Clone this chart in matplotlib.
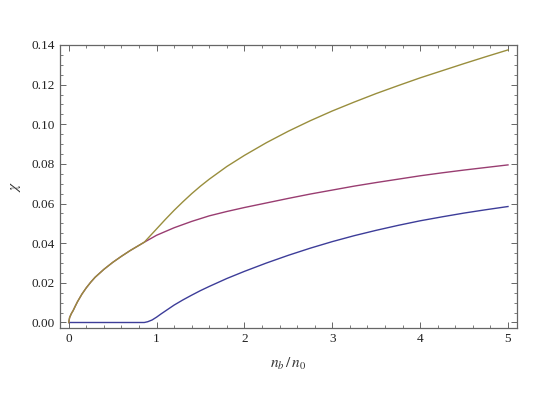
import matplotlib
matplotlib.use("Agg")
import matplotlib.pyplot as plt
from matplotlib.ticker import MultipleLocator

plt.rcParams['font.family'] = ['Liberation Serif', 'DejaVu Serif']
plt.rcParams['mathtext.fontset'] = 'stix'

# values
x_blue = [0, 0.5, 0.86, 0.9, 0.95, 1.0, 1.05, 1.1, 1.2, 1.3, 1.4, 1.5, 1.6, 1.8,
          2.0, 2.25, 2.5, 2.75, 3.0, 3.25, 3.5, 3.75, 4.0, 4.25, 4.5, 4.75, 5.0]
blue = [0, 0, 0, 0.0004, 0.0013, 0.0027, 0.0043, 0.0058, 0.0088, 0.0114, 0.0138,
        0.0161, 0.0182, 0.0222, 0.0258, 0.0300, 0.0339, 0.0375, 0.0408, 0.0438,
        0.0465, 0.0490, 0.0513, 0.0533, 0.0552, 0.0569, 0.0585]

x_red = [0, 0.01, 0.03, 0.05, 0.075, 0.1, 0.15, 0.2, 0.25, 0.3, 0.4, 0.5, 0.6,
         0.7, 0.86, 1.0, 1.2, 1.4, 1.6, 1.8, 2.0, 2.25, 2.5, 2.75, 3.0, 3.25,
         3.5, 3.75, 4.0, 4.25, 4.5, 4.75, 5.0]
red = [0, 0.0025, 0.0045, 0.006, 0.0083, 0.0105, 0.0143, 0.0175, 0.0203, 0.0228,
       0.0268, 0.0303, 0.0334, 0.0363, 0.0405, 0.0440, 0.0478, 0.0510, 0.0538,
       0.0560, 0.0580, 0.0603, 0.0626, 0.0648, 0.0668, 0.0688, 0.0706, 0.0723,
       0.0740, 0.0755, 0.0769, 0.0782, 0.0795]

x_green = [0, 0.01, 0.03, 0.05, 0.075, 0.1, 0.15, 0.2, 0.25, 0.3, 0.4, 0.5, 0.6,
           0.7, 0.86, 1.0, 1.1, 1.2, 1.3, 1.4, 1.5, 1.6, 1.8, 2.0, 2.25, 2.5,
           2.75, 3.0, 3.25, 3.5, 3.75, 4.0, 4.25, 4.5, 4.75, 5.0]
green = [0, 0.0025, 0.0045, 0.006, 0.0083, 0.0105, 0.0143, 0.0175, 0.0203, 0.0228,
         0.0268, 0.0303, 0.0334, 0.0363, 0.0405, 0.0472, 0.0520, 0.0566, 0.0609,
         0.0650, 0.0688, 0.0723, 0.0787, 0.0843, 0.0907, 0.0965, 0.1018, 0.1067,
         0.1112, 0.1155, 0.1195, 0.1234, 0.1270, 0.1306, 0.1341, 0.1375]

fig = plt.figure(figsize=(5.4, 4.05), dpi=100)
ax = fig.add_axes([0.111, 0.190, 0.846, 0.699])

ax.plot(x_blue, blue, color="#3d3d99", lw=1.0)
ax.plot(x_red, red, color="#993d71", lw=1.0)
ax.plot(x_green, green, color="#998e3d", lw=1.0)

ax.set_xlim(-0.1, 5.1)
ax.set_ylim(-0.0028, 0.14)
ax.xaxis.set_major_locator(MultipleLocator(1))
ax.xaxis.set_minor_locator(MultipleLocator(0.2))
ax.yaxis.set_major_locator(MultipleLocator(0.02))
ax.yaxis.set_minor_locator(MultipleLocator(0.005))
ax.yaxis.set_major_formatter(plt.FormatStrFormatter("%.2f"))

for s in ax.spines.values():
    s.set_color("#666666")
    s.set_linewidth(0.9)
ax.tick_params(which="both", direction="in", top=True, right=True,
               colors="#666666", labelcolor="#222222", labelsize=9.5)
ax.tick_params(which="major", length=4, width=0.7)
ax.tick_params(which="minor", length=2, width=0.6)

ax.set_xlabel(r"$n_b\,/\,n_0$", fontsize=11, color="#333333", labelpad=8)
ax.set_ylabel(r"$\chi$", fontsize=11, color="#333333", labelpad=6)

fig.savefig("out.png", dpi=100)
